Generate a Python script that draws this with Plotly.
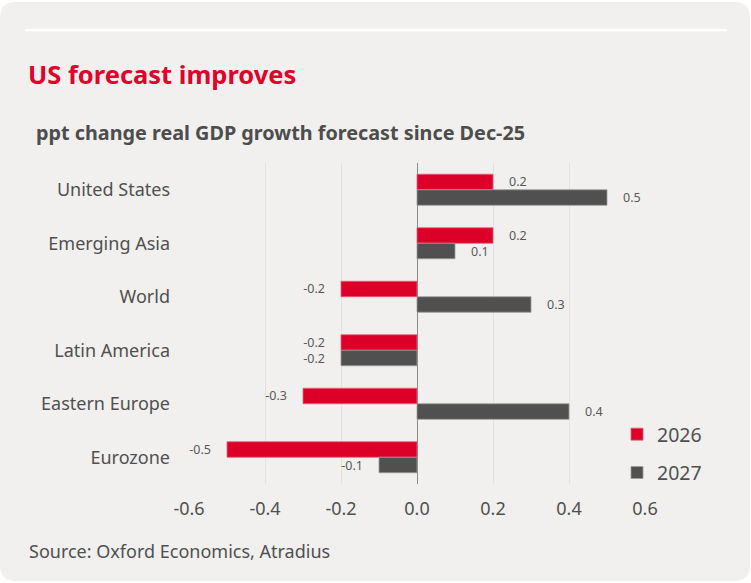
import plotly.graph_objects as go

categories = ["United States", "Emerging Asia", "World", "Latin America", "Eastern Europe", "Eurozone"]
values_2026 = [0.2, 0.2, -0.2, -0.2, -0.3, -0.5]
values_2027 = [0.5, 0.1, 0.3, -0.2, 0.4, -0.1]
series_names = ["2026", "2027"]
tick_values = [-0.6, -0.4, -0.2, 0.0, 0.2, 0.4, 0.6]
tick_labels = ["-0.6", "-0.4", "-0.2", "0.0", "0.2", "0.4", "0.6"]

W, H = 751, 583
ML, MR, MT, MB = 189, 106, 163, 99
PW, PH = W - ML - MR, H - MT - MB

def px(x):
    return (x - ML) / PW

def py(y):
    return 1 - (y - MT) / PH

RED = "#dc0028"
DARK = "#505050"
FONT = "Noto Sans"
TXT = "#505050"
PAD = "\u00a0\u00a0\u00a0\u00a0"

def label(v):
    s = f"{v:.1f}"
    return PAD + s if v >= 0 else s + PAD

fig = go.Figure()
fig.add_trace(go.Bar(
    y=categories, x=values_2026, name=series_names[0], orientation="h",
    marker=dict(color=RED, line=dict(color="#e8607a", width=0.8)),
    text=[label(v) for v in values_2026], textposition="outside",
    constraintext="none",
    textfont=dict(family=FONT, size=12.5, color="#595959"),
    cliponaxis=False, legendgroup="a",
))
fig.add_trace(go.Bar(
    y=categories, x=values_2027, name=series_names[1], orientation="h",
    marker=dict(color=DARK, line=dict(color="#9a9a9a", width=0.8)),
    text=[label(v) for v in values_2027], textposition="outside",
    constraintext="none",
    textfont=dict(family=FONT, size=12.5, color="#595959"),
    cliponaxis=False, legendgroup="b",
))

# rounded card
r = 16
x0, y0, x1, y1 = 0, 2, 750, 581
path = (f"M {px(x0 + r)} {py(y0)} L {px(x1 - r)} {py(y0)} "
        f"Q {px(x1)} {py(y0)} {px(x1)} {py(y0 + r)} "
        f"L {px(x1)} {py(y1 - r)} Q {px(x1)} {py(y1)} {px(x1 - r)} {py(y1)} "
        f"L {px(x0 + r)} {py(y1)} Q {px(x0)} {py(y1)} {px(x0)} {py(y1 - r)} "
        f"L {px(x0)} {py(y0 + r)} Q {px(x0)} {py(y0)} {px(x0 + r)} {py(y0)} Z")

shapes = [
    dict(type="path", xref="paper", yref="paper", path=path,
         fillcolor="#f1f0ef", line=dict(width=0), layer="below"),
    dict(type="line", xref="paper", yref="paper", x0=px(25), x1=px(727),
         y0=py(30), y1=py(30), line=dict(color="white", width=2.5), layer="below"),
]

annotations = [
    dict(text="<b>US forecast improves</b>", xref="paper", yref="paper",
         x=px(26), y=py(74), xanchor="left", yanchor="middle", showarrow=False,
         font=dict(family=FONT, size=25.5, color="#e0002a")),
    dict(text="<b>ppt change real GDP growth forecast since Dec-25</b>", xref="paper", yref="paper",
         x=px(34), y=py(132), xanchor="left", yanchor="middle", showarrow=False,
         font=dict(family=FONT, size=19.8, color="#4d4d4d")),
    dict(text="Source: Oxford Economics, Atradius", xref="paper", yref="paper",
         x=px(27), y=py(551), xanchor="left", yanchor="middle", showarrow=False,
         font=dict(family=FONT, size=18, color=TXT)),
]

fig.update_layout(
    width=W, height=H,
    margin=dict(l=ML, r=MR, t=MT, b=MB),
    paper_bgcolor="white", plot_bgcolor="rgba(0,0,0,0)",
    barmode="group", bargap=0.42, bargroupgap=0,
    shapes=shapes, annotations=annotations,
    showlegend=True,
    legend=dict(x=px(617), y=py(415), xanchor="left", yanchor="top",
                bgcolor="rgba(0,0,0,0)", font=dict(family=FONT, size=19.5, color=TXT),
                tracegroupgap=10, itemwidth=30),
    xaxis=dict(range=[-0.6, 0.6], tickvals=tick_values, ticktext=tick_labels,
               showgrid=True, gridcolor="#e2e1e0", gridwidth=1,
               zeroline=True, zerolinecolor="#8a8a8a", zerolinewidth=1.2,
               showline=False, ticks="", ticklabelstandoff=12,
               tickfont=dict(family=FONT, size=18, color=TXT)),
    yaxis=dict(autorange="reversed", showgrid=False, showline=False, ticks="",
               ticklabelstandoff=18,
               tickfont=dict(family=FONT, size=18, color=TXT)),
)

fig.write_html("out.html", config={"displayModeBar": False},
               post_script="document.body.style.margin='0';document.body.style.overflow='hidden';")
